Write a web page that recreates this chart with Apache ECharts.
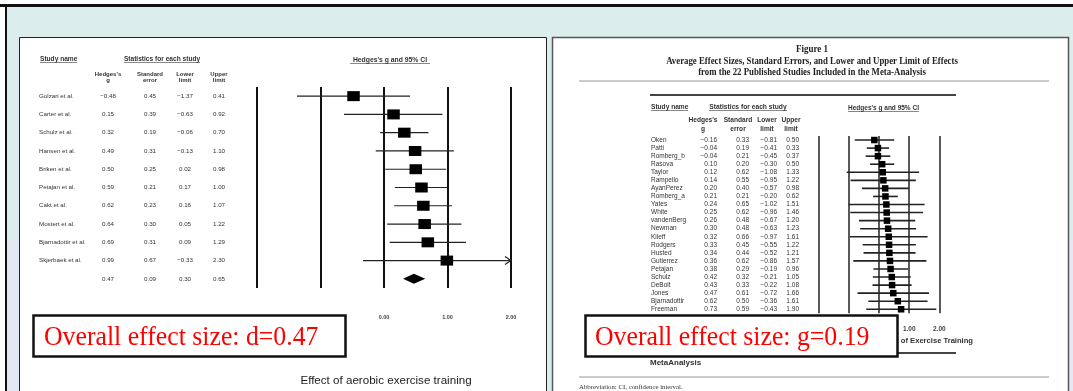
<!DOCTYPE html>
<html>
<head>
<meta charset="utf-8">
<style>
html, body { margin: 0; padding: 0; background: #fff; }
#chart { width: 1073px; height: 391px; }
</style>
<script src="https://cdn.jsdelivr.net/npm/echarts@6/dist/echarts.min.js"></script>
</head>
<body>
<div id="chart"></div>
<script>
// left figure: aerobic exercise training
const leftStudies = ["Golzari et al.", "Carter et al.", "Schulz et al.", "Hansen et al.", "Briken et al.", "Petajan et al.", "Cakt et al.", "Mostert et al.", "Bjarnadottir et al.", "Skjerbaek et al."];
const leftG = [-0.48, 0.15, 0.32, 0.49, 0.50, 0.59, 0.62, 0.64, 0.69, 0.99];
const leftSE = [0.45, 0.39, 0.19, 0.31, 0.25, 0.21, 0.23, 0.30, 0.31, 0.67];
const leftLower = [-1.37, -0.63, -0.06, -0.13, 0.02, 0.17, 0.16, 0.05, 0.09, -0.33];
const leftUpper = [0.41, 0.92, 0.70, 1.10, 0.98, 1.00, 1.07, 1.22, 1.29, 2.30];
const leftOverall = [0.47, 0.09, 0.30, 0.65]; // g, se, lower, upper

// right figure: 22 published studies
const rightStudies = ["Oken", "Patti", "Romberg_b", "Rasova", "Taylor", "Rampello", "AyanPerez", "Romberg_a", "Yates", "White", "vandenBerg", "Newman", "Kileff", "Rodgers", "Husted", "Gutierrez", "Petajan", "Schulz", "DeBolt", "Jones", "Bjarnadottir", "Freeman"];
const rightG = [-0.16, -0.04, -0.04, 0.10, 0.12, 0.14, 0.20, 0.21, 0.24, 0.25, 0.26, 0.30, 0.32, 0.33, 0.34, 0.36, 0.38, 0.42, 0.43, 0.47, 0.62, 0.73];
const rightSE = [0.33, 0.19, 0.21, 0.20, 0.62, 0.55, 0.40, 0.21, 0.65, 0.62, 0.48, 0.48, 0.66, 0.45, 0.44, 0.62, 0.29, 0.32, 0.33, 0.61, 0.50, 0.59];
const rightLower = [-0.81, -0.41, -0.45, -0.30, -1.08, -0.95, -0.57, -0.20, -1.02, -0.96, -0.67, -0.63, -0.97, -0.55, -0.52, -0.86, -0.19, -0.21, -0.22, -0.72, -0.36, -0.43];
const rightUpper = [0.50, 0.33, 0.37, 0.50, 1.33, 1.22, 0.98, 0.62, 1.51, 1.46, 1.20, 1.23, 1.61, 1.22, 1.21, 1.57, 0.96, 1.05, 1.08, 1.66, 1.61, 1.90];

const axisMin = -2;
const axisMax = 2;

const sans = "'Liberation Sans', Arial, sans-serif";
const serif = "'Liberation Serif', 'Times New Roman', serif";

const fmt = v => (v < 0 ? "\u2212" : "") + Math.abs(v).toFixed(2);

const txt = (text, x, y, o = {}) => ({
	type: "text",
	x, y,
	z: o.z ?? 5,
	scaleX: o.sx ?? 1,
	style: {
		text,
		fill: o.fill || "#222",
		fontSize: o.size || 7,
		fontWeight: o.weight || "normal",
		fontFamily: o.family || sans,
		align: o.align || "left",
		textAlign: o.align || "left",
		verticalAlign: "middle",
		textVerticalAlign: "middle",
		lineHeight: o.lh
	}
});
const line = (x1, y1, x2, y2, stroke, lineWidth, z = 3) => ({ type: "line", z, shape: { x1, y1, x2, y2 }, style: { stroke, lineWidth } });
const rect = (x, y, width, height, fill, stroke, lineWidth, z = 0) => ({ type: "rect", z, shape: { x, y, width, height }, style: { fill, stroke, lineWidth } });

// table of numbers next to each forest plot, rows placed by the category axis
function tableItem(names, cols, nameX, colX, align, size, color) {
	return (params, api) => {
		const i = params.dataIndex;
		const y = api.coord([0, i])[1];
		const kids = [{ type: "text", x: nameX, y, style: { text: names[i], fill: color, fontSize: size, fontFamily: sans, align: "left", verticalAlign: "middle" } }];
		cols.forEach((arr, c) => {
			kids.push({ type: "text", x: colX[c], y, style: { text: fmt(arr[i]), fill: color, fontSize: size, fontFamily: sans, align, verticalAlign: "middle" } });
		});
		return { type: "group", children: kids };
	};
}

function forestItem(sqW, sqH, lineW, color) {
	return (params, api) => {
		const lo = api.value(0), hi = api.value(1), g = api.value(2), i = api.value(3);
		const y = api.coord([0, i])[1];
		const xLo = api.coord([Math.max(lo, axisMin), i])[0];
		const xHi = api.coord([Math.min(hi, axisMax), i])[0];
		const xG = api.coord([g, i])[0];
		const kids = [
			{ type: "line", shape: { x1: xLo, y1: y, x2: xHi, y2: y }, style: { stroke: color, lineWidth: lineW } },
			{ type: "rect", shape: { x: xG - sqW / 2, y: y - sqH / 2, width: sqW, height: sqH }, style: { fill: "#000" } }
		];
		if (hi > axisMax) {
			kids.push({ type: "polyline", shape: { points: [[xHi - 6, y - 4], [xHi, y], [xHi - 6, y + 4]] }, style: { stroke: color, fill: null, lineWidth: lineW } });
		}
		return { type: "group", children: kids };
	};
}

function diamondItem(params, api) {
	const lo = api.value(0), hi = api.value(1), g = api.value(2), i = api.value(3);
	const y = api.coord([0, i])[1];
	const xLo = api.coord([lo, i])[0], xHi = api.coord([hi, i])[0], xG = api.coord([g, i])[0];
	return { type: "polygon", shape: { points: [[xLo, y], [xG, y - 5], [xHi, y], [xG, y + 5]] }, style: { fill: "#000" } };
}

const leftNames = leftStudies.concat([""]);
const leftCols = [leftG.concat(leftOverall[0]), leftSE.concat(leftOverall[1]), leftLower.concat(leftOverall[2]), leftUpper.concat(leftOverall[3])];
const rightCols = [rightG, rightSE, rightLower, rightUpper];

const xAxisBase = (gridIndex, lineColor, lineWidth, labelSize, margin) => ({
	type: "value", gridIndex, min: axisMin, max: axisMax, interval: 1,
	axisLine: { show: false }, axisTick: { show: false },
	splitLine: { show: true, lineStyle: { color: lineColor, width: lineWidth } },
	axisLabel: { formatter: v => fmt(v), fontSize: labelSize, fontWeight: "bold", fontFamily: sans, color: "#444", margin }
});
const yAxisBase = (gridIndex, data) => ({
	type: "category", gridIndex, data, inverse: true,
	axisLine: { show: false }, axisTick: { show: false }, axisLabel: { show: false }, splitLine: { show: false }
});

const graphics = [
	// slide frame
	rect(0, 0, 1073, 391, "#fff", null, 0, -2),
	rect(7, 7, 1066, 384, "#dbeeed", null, 0, -1),
	rect(7, 240, 12, 151, "#e3e8f3", null, 0, -1),
	rect(1069, 240, 4, 151, "#e3e8f3", null, 0, -1),
	rect(0, 4, 1073, 3, "#111", null, 0, 0),
	rect(5, 4, 2, 387, "#111", null, 0, 0),
	rect(19.5, 37.5, 527, 360, "#fff", "#222", 1, 0),
	rect(552.5, 37.5, 516, 360, "#fff", "#555", 1.5, 0),

	// left table headers
	txt("Study name", 40, 59, { size: 6.6, weight: "bold", fill: "#333" }),
	line(40, 62.5, 77, 62.5, "#555", 0.7),
	txt("Statistics for each study", 162, 59, { size: 6.6, weight: "bold", fill: "#333", align: "center" }),
	line(124, 62.5, 200, 62.5, "#555", 0.7),
	txt("Hedges's g and 95% CI", 390, 60, { size: 6.8, weight: "bold", fill: "#333", align: "center" }),
	line(350, 63.5, 430, 63.5, "#555", 0.7),
	txt("Hedges's\ng", 108, 77, { size: 6, weight: "bold", fill: "#333", align: "center", lh: 6 }),
	txt("Standard\nerror", 150, 77, { size: 6, weight: "bold", fill: "#333", align: "center", lh: 6 }),
	txt("Lower\nlimit", 185, 77, { size: 6, weight: "bold", fill: "#333", align: "center", lh: 6 }),
	txt("Upper\nlimit", 219, 77, { size: 6, weight: "bold", fill: "#333", align: "center", lh: 6 }),
	txt("Effect of aerobic exercise training", 386, 381, { size: 11.6, fill: "#222", align: "center" }),

	// right figure caption and rules
	txt("Figure 1", 812, 49, { size: 10, weight: "bold", family: serif, sx: 0.9, align: "center" }),
	txt("Average Effect Sizes, Standard Errors, and Lower and Upper Limit of Effects", 812, 61, { size: 10, weight: "bold", family: serif, sx: 0.88, align: "center" }),
	txt("from the 22 Published Studies Included in the Meta-Analysis", 812, 72.5, { size: 10, weight: "bold", family: serif, sx: 0.88, align: "center" }),
	line(579, 81, 1049, 81, "#bbb", 1.5),
	line(650, 95, 956, 95, "#444", 2),
	txt("Study name", 651, 107, { size: 6.6, weight: "bold", fill: "#333" }),
	line(651, 110.5, 688, 110.5, "#555", 0.7),
	txt("Statistics for each study", 748, 107, { size: 6.7, weight: "bold", fill: "#333", align: "center" }),
	line(709, 110.5, 787, 110.5, "#555", 0.7),
	txt("Hedges's g and 95% CI", 883.5, 108, { size: 6.5, weight: "bold", fill: "#333", align: "center" }),
	line(848, 111.5, 919, 111.5, "#555", 0.7),
	txt("Hedges's\ng", 703, 124.5, { size: 6.6, weight: "bold", fill: "#333", align: "center", lh: 9 }),
	txt("Standard\nerror", 738, 124.5, { size: 6.6, weight: "bold", fill: "#333", align: "center", lh: 9 }),
	txt("Lower\nlimit", 767, 124.5, { size: 6.6, weight: "bold", fill: "#333", align: "center", lh: 9 }),
	txt("Upper\nlimit", 791, 124.5, { size: 6.6, weight: "bold", fill: "#333", align: "center", lh: 9 }),
	txt("Effect of Exercise Training", 973, 340.5, { size: 7.6, weight: "bold", fill: "#333", align: "right" }),
	line(650, 353, 956, 353, "#444", 2),
	txt("MetaAnalysis", 650, 363, { size: 8, weight: "bold", fill: "#333" }),
	line(579, 377, 1049, 377, "#bbb", 1.5),
	txt("Abbreviation: CI, confidence interval.", 579, 387, { size: 6.8, family: serif, fill: "#333" }),

	// overall effect boxes
	rect(33.5, 315.5, 312, 41, "#fff", "#111", 2.5, 100),
	txt("Overall effect size: d=0.47", 44, 338, { size: 28, family: serif, fill: "#ff0000", sx: 0.92, z: 101 }),
	rect(585.5, 315.5, 312, 41, "#fff", "#111", 2.5, 100),
	txt("Overall effect size: g=0.19", 595, 338, { size: 28, family: serif, fill: "#ff0000", sx: 0.92, z: 101 })
];

const chart = echarts.init(document.getElementById("chart"), null, { renderer: "canvas" });
chart.setOption({
	animation: false,
	graphic: { elements: graphics },
	grid: [
		{ left: 257, top: 87, width: 254, height: 201 },
		{ left: 819, top: 136, width: 120.3, height: 177.3 }
	],
	xAxis: [
		xAxisBase(0, "#111", 2, 5.5, 26),
		xAxisBase(1, "#222", 1.5, 6.5, 12)
	],
	yAxis: [
		yAxisBase(0, leftNames),
		yAxisBase(1, rightStudies)
	],
	series: [
		{
			type: "custom", name: "left table", xAxisIndex: 0, yAxisIndex: 0, clip: false,
			data: leftNames.map((_, i) => [0, i]), encode: { x: 0, y: 1 },
			renderItem: tableItem(leftNames, leftCols, 39, [108, 150, 185, 219], "center", 6.2, "#333")
		},
		{
			type: "custom", name: "left forest", xAxisIndex: 0, yAxisIndex: 0,
			data: leftStudies.map((_, i) => [leftLower[i], leftUpper[i], leftG[i], i]), encode: { x: [0, 1, 2], y: 3 },
			renderItem: forestItem(12.5, 10, 1.2, "#222")
		},
		{
			type: "custom", name: "left overall", xAxisIndex: 0, yAxisIndex: 0,
			data: [[leftOverall[2], leftOverall[3], leftOverall[0], leftStudies.length]], encode: { x: [0, 1, 2], y: 3 },
			renderItem: diamondItem
		},
		{
			type: "custom", name: "right table", xAxisIndex: 1, yAxisIndex: 1, clip: false,
			data: rightStudies.map((_, i) => [0, i]), encode: { x: 0, y: 1 },
			renderItem: tableItem(rightStudies, rightCols, 651, [717, 749, 777, 799], "right", 6.5, "#333")
		},
		{
			type: "custom", name: "right forest", xAxisIndex: 1, yAxisIndex: 1,
			data: rightStudies.map((_, i) => [rightLower[i], rightUpper[i], rightG[i], i]), encode: { x: [0, 1, 2], y: 3 },
			renderItem: forestItem(6.5, 6.5, 1.6, "#222")
		}
	]
});
</script>
</body>
</html>
